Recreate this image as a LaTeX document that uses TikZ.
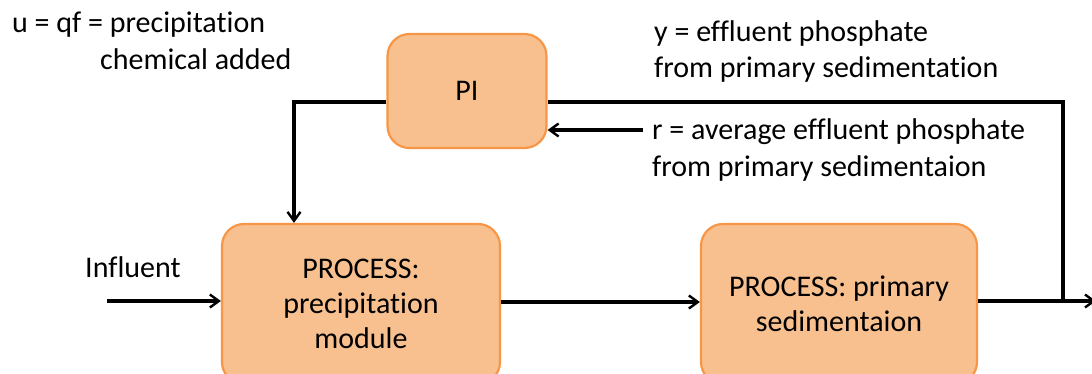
\documentclass[tikz,border=0pt]{standalone}
\usepackage{fontspec}
\setmainfont{Carlito}[Ligatures=NoCommon]
\usetikzlibrary{arrows.meta}
\definecolor{boxfill}{HTML}{F9C08F}
\definecolor{boxline}{HTML}{F79646}
\begin{document}
\begin{tikzpicture}[x=1pt,y=-1pt,
  every node/.style={font=\fontsize{30}{35}\selectfont},
  block/.style={draw=boxline,fill=boxfill,line width=2.2pt,rounded corners=22pt,
    align=center,inner sep=0pt},
  flow/.style={draw=black,line width=3.2pt},
  arr/.style={flow,-{Straight Barb[length=9pt,width=13pt,line width=2.4pt]}},
  lbl/.style={anchor=base west,inner sep=0pt}]
\useasboundingbox (0,0) rectangle (1092,374);
\clip (0,0) rectangle (1092,374);

% blocks
\node[block,minimum width=159pt,minimum height=114pt] (pi) at (467,91) {PI};
\node[block,minimum width=278pt,minimum height=160pt] (proc1) at (361,304)
  {PROCESS:\\precipitation\\module};
\node[block,minimum width=276pt,minimum height=160pt] (proc2) at (839,304)
  {PROCESS: primary\\sedimentaion};

% labels
\node[lbl] (ulbl) at (12,33) {u = qf = precipitation};
\node[lbl] (ulbl2) at (100,70) {chemical added};
\node[lbl] (ylbl) at (654,42) {y = effluent phosphate};
\node[lbl] (ylbl2) at (654,78) {from primary sedimentation};
\node[lbl] (rlbl) at (652,140) {r = average effluent phosphate};
\node[lbl] (rlbl2) at (652,177) {from primary sedimentaion};
\node[lbl] (inlbl) at (85,277) {Influent};

% connection points
\coordinate (ctrl) at (294,102);
\coordinate (inflow) at (107,301);
\coordinate (junc) at (1063,301);
\coordinate (outend) at (1096,301);
\coordinate (fbtop) at (1063,102);
\coordinate (rstart) at (643,130);

% connectors
\draw[arr] (pi.west |- ctrl) -- (ctrl) -- (ctrl |- proc1.north);
\draw[arr] (inflow) -- (proc1.west |- inflow);
\draw[arr] (proc1.east |- 0,302) -- (proc2.west |- 0,302);
\draw[arr] (proc2.east |- junc) -- (outend);
\draw[flow] (junc) -- (fbtop) -- (pi.east |- fbtop);
\draw[arr] (rstart) -- (pi.east |- rstart);
\end{tikzpicture}
\end{document}
